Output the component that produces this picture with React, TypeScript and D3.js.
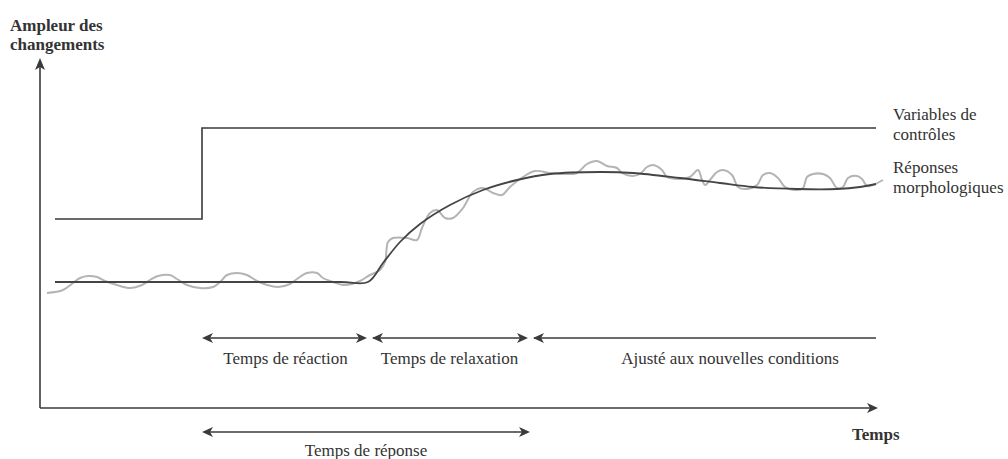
import React from "react";
import * as d3 from "d3";

// Time units (horizontal) and amplitude units (vertical)
const controlVariable: [number, number][] = [
  [15, 189], [162, 189], [162, 280], [836, 280],
];

const responseTrend: [number, number][] = [
  [15, 126], [300, 126], [328, 126], [343, 145], [360, 166], [380, 184], [410, 203],
  [443, 218], [477, 228], [510, 234], [560, 236], [593, 235], [640, 230],
  [680, 225], [713, 221], [757, 219], [797, 219], [820, 221], [836, 224],
];

const responseObserved: [number, number][] = [
  [7, 115], [23, 118], [33, 125], [40, 130], [48, 132], [57, 131], [65, 127],
  [77, 123], [90, 120], [102, 123], [110, 128], [118, 132], [130, 133],
  [137, 129], [147, 123], [160, 120], [173, 121], [180, 126], [187, 133],
  [197, 135], [207, 133], [217, 127], [227, 123], [238, 121], [250, 124],
  [257, 129], [267, 135], [277, 135], [283, 130], [293, 126], [303, 123],
  [312, 124], [320, 127], [330, 133], [340, 138], [345, 146], [348, 166],
  [353, 170], [367, 170], [377, 168], [382, 180], [390, 195], [397, 198],
  [405, 190], [413, 190], [423, 200], [433, 216], [443, 220], [453, 215],
  [462, 213], [470, 221], [483, 231], [495, 237], [510, 235], [523, 234],
  [537, 235], [547, 244], [557, 247], [567, 242], [577, 240], [582, 235],
  [592, 232], [600, 234], [607, 241], [613, 243], [622, 238], [627, 231],
  [640, 229], [650, 231], [658, 238], [662, 228], [665, 223], [670, 228],
  [677, 236], [683, 238], [692, 233], [698, 221], [707, 219], [717, 223],
  [723, 233], [730, 235], [738, 230], [745, 221], [757, 218], [763, 220],
  [767, 231], [773, 234], [783, 234], [790, 230], [797, 220], [803, 221],
  [808, 230], [817, 232], [822, 229], [827, 222], [833, 223], [843, 228],
];

const phaseLabels = ["Temps de réaction", "Temps de relaxation", "Ajusté aux nouvelles conditions"];
const phaseStarts = [162, 329, 490];
const phaseEnds = [329, 490, 836];
const phaseRightArrow = [true, true, false];
const responseLabel = "Temps de réponse";
const responseInterval = [162, 490];

const yAxisLabel = ["Ampleur des", "changements"];
const xAxisLabel = "Temps";
const seriesLabels = [["Variables de", "contrôles"], ["Réponses", "morphologiques"]];

export default function App() {
  const W = 1008;
  const H = 459;
  const x = d3.scaleLinear().domain([0, 840]).range([40, 880]);
  const y = d3.scaleLinear().domain([0, 350]).range([408, 58]);

  const lineStraight = d3.line<[number, number]>().x((d) => x(d[0])).y((d) => y(d[1]));
  const lineTrend = d3
    .line<[number, number]>()
    .x((d) => x(d[0]))
    .y((d) => y(d[1]))
    .curve(d3.curveCatmullRom.alpha(0.5));
  const lineObs = d3
    .line<[number, number]>()
    .x((d) => x(d[0]))
    .y((d) => y(d[1]))
    .curve(d3.curveCatmullRom.alpha(0.5));

  const dark = "#3a3a3a";
  const font = "'Liberation Serif', 'Times New Roman', serif";

  const headR = (px: number, py: number) =>
    `M${px},${py} L${px - 11},${py - 5} L${px - 8},${py} L${px - 11},${py + 5} Z`;
  const headL = (px: number, py: number) =>
    `M${px},${py} L${px + 11},${py - 5} L${px + 8},${py} L${px + 11},${py + 5} Z`;
  const headU = (px: number, py: number) =>
    `M${px},${py} L${px - 5},${py + 12} L${px},${py + 9} L${px + 5},${py + 12} Z`;

  const phaseY = y(70);
  const respY = y(-24);

  return (
    <svg width={W} height={H} style={{ position: "absolute", left: 0, top: 0, background: "#fff" }}>
      {/* axes */}
      <line x1={x(0)} y1={y(0)} x2={x(0)} y2={y(345)} stroke={dark} strokeWidth={1.6} />
      <path d={headU(x(0), y(350))} fill={dark} />
      <line x1={x(0)} y1={y(0)} x2={x(834)} y2={y(0)} stroke={dark} strokeWidth={1.6} />
      <path d={headR(x(838), y(0))} fill={dark} />

      {/* control variable */}
      <path d={lineStraight(controlVariable) || ""} fill="none" stroke={dark} strokeWidth={1.6} />

      {/* observed noisy response */}
      <path d={lineObs(responseObserved) || ""} fill="none" stroke="#b4b4b4" strokeWidth={2} />
      {/* trend response */}
      <path d={lineTrend(responseTrend) || ""} fill="none" stroke="#444" strokeWidth={1.8} />

      {/* phase arrows */}
      {phaseLabels.map((lab, i) => {
        const x1 = x(phaseStarts[i]);
        const x2 = x(phaseEnds[i]);
        return (
          <g key={lab}>
            <line x1={x1 + 4} y1={phaseY} x2={phaseRightArrow[i] ? x2 - 4 : x2} y2={phaseY} stroke={dark} strokeWidth={1.6} />
            <path d={headL(x1 + (i > 0 ? 3 : 0), phaseY)} fill={dark} />
            {phaseRightArrow[i] && <path d={headR(x2 - 2, phaseY)} fill={dark} />}
            <text
              x={i === 2 ? 730 : (x1 + x2) / 2}
              y={phaseY + 26}
              textAnchor="middle"
              fontFamily={font}
              fontSize={17}
              fill="#333"
            >
              {lab}
            </text>
          </g>
        );
      })}

      {/* response time arrow */}
      <line x1={x(responseInterval[0]) + 4} y1={respY} x2={x(responseInterval[1]) - 4} y2={respY} stroke={dark} strokeWidth={1.6} />
      <path d={headL(x(responseInterval[0]), respY)} fill={dark} />
      <path d={headR(x(responseInterval[1]), respY)} fill={dark} />
      <text
        x={(x(responseInterval[0]) + x(responseInterval[1])) / 2}
        y={respY + 24}
        textAnchor="middle"
        fontFamily={font}
        fontSize={17}
        fill="#333"
      >
        {responseLabel}
      </text>

      {/* axis labels */}
      <text fontFamily={font} fontSize={17} fontWeight="bold" fill="#333">
        <tspan x={10} y={31}>{yAxisLabel[0]}</tspan>
        <tspan x={10} y={50}>{yAxisLabel[1]}</tspan>
      </text>
      <text x={852} y={440} fontFamily={font} fontSize={17} fontWeight="bold" fill="#333">
        {xAxisLabel}
      </text>

      {/* series labels */}
      <text fontFamily={font} fontSize={17} fill="#333">
        <tspan x={893} y={120}>{seriesLabels[0][0]}</tspan>
        <tspan x={893} y={140}>{seriesLabels[0][1]}</tspan>
        <tspan x={893} y={173}>{seriesLabels[1][0]}</tspan>
        <tspan x={893} y={193}>{seriesLabels[1][1]}</tspan>
      </text>
    </svg>
  );
}
